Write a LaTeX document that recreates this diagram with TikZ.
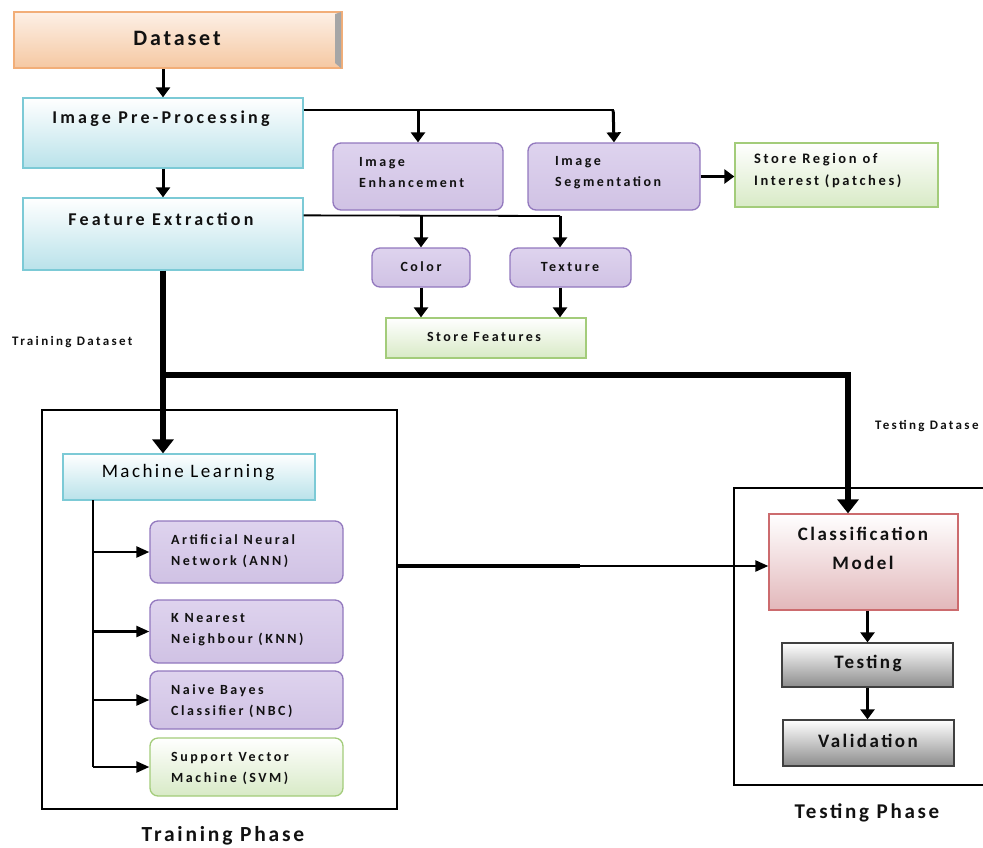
\documentclass[tikz,border=0pt]{standalone}
\usepackage{fontspec}
\setmainfont{Carlito}[LetterSpace=18]
\newfontfamily\tightf{Carlito}[LetterSpace=13]
\usetikzlibrary{arrows.meta,fit}
\definecolor{cyanline}{HTML}{7CCAD6}
\definecolor{cyanbot}{HTML}{B9E2EA}
\definecolor{purline}{HTML}{9278BE}
\definecolor{purtop}{HTML}{DED3EE}
\definecolor{purmid}{HTML}{F7F4FB}
\definecolor{purbot}{HTML}{D0C2E4}
\definecolor{grnline}{HTML}{A3CC7A}
\definecolor{grnbot}{HTML}{D8EAC6}
\definecolor{pinkline}{HTML}{CC6B6E}
\definecolor{pinkbot}{HTML}{E2B7BA}
\definecolor{orgline}{HTML}{F2AE78}
\definecolor{orgtop}{HTML}{FDF0E6}
\definecolor{orgbot}{HTML}{F5C8A2}
\definecolor{txtcol}{HTML}{111111}
\newcommand{\fsz}[1]{\fontsize{#1}{#1}\selectfont}
\begin{document}
\begin{tikzpicture}[x=1pt,y=-1pt,
  boxbase/.style={inner sep=0pt},
  cyanbox/.style={boxbase,draw=cyanline,line width=1.3pt,top color=white,bottom color=cyanbot},
  purbox/.style={boxbase,draw=purline,line width=1.3pt,rounded corners=8pt,top color=purtop,middle color=purmid,bottom color=purbot},
  grnbox/.style={boxbase,draw=grnline,line width=1.3pt,top color=white,bottom color=grnbot},
  grnrbox/.style={grnbox,rounded corners=8pt},
  pinkbox/.style={boxbase,draw=pinkline,line width=1.3pt,top color=white,bottom color=pinkbot},
  graybox/.style={boxbase,draw=black!75,line width=1.3pt,top color=white,bottom color=black!45},
  databox/.style={boxbase,draw=orgline,line width=2.5pt,top color=orgtop,bottom color=orgbot},
  phasebox/.style={boxbase,draw=black,line width=1.2pt},
  txt/.style={inner sep=0pt,text=txtcol,font=\bfseries},
  ltxt/.style={txt,anchor=west,align=left},
  conn/.style={line width=1.8pt},
  arr/.style={line width=3pt,-{Triangle[width=14pt,length=10pt]}},
  thinarr/.style={line width=2.4pt,-{Triangle[width=11pt,length=13pt]}},
  bigline/.style={line width=6pt},
  bigarr/.style={line width=6pt,-{Triangle[width=21pt,length=14pt]}}
]
\useasboundingbox (0,0) rectangle (983,847);
\clip (0,0) rectangle (983,847);

% top chain
\node[databox,fit={(14,12) (342,68)}] (data) {};
\fill[black!35] (335,14) -- (341,12) -- (341,68) -- (335,63) -- cycle;
\node[txt,font=\tightf\bfseries\fsz{22}] (datat) at (177,38) {Dataset};

\node[cyanbox,fit={(23,98) (303,168)}] (pre) {};
\node[txt,font=\bfseries\fsz{18}] (pret) at (161,119) {Image Pre-Processing};

\node[cyanbox,fit={(23,198) (303,270)}] (fe) {};
\node[txt,font=\bfseries\fsz{18}] (fet) at (161,219) {Feature Extraction};

% preprocessing branch
\node[purbox,fit={(333,143) (503,210)}] (enh) {};
\node[ltxt,font=\bfseries\fontsize{14}{21}\selectfont] (enht) at (359,173) {Image\\Enhancement};
\node[purbox,fit={(528,143) (700,210)}] (seg) {};
\node[ltxt,font=\bfseries\fontsize{14}{21}\selectfont] (segt) at (555,173) {Image\\Segmentation};
\node[grnbox,fit={(735,143) (938,207)}] (roi) {};
\node[ltxt,font=\bfseries\fontsize{14.5}{22}\selectfont] (roit) at (754,171) {Store Region of\\Interest (patches)};

% feature branch
\node[purbox,fit={(372,248) (470,287)}] (col) {};
\node[txt,font=\bfseries\fsz{14}] (colt) at (421,267) {Color};
\node[purbox,fit={(510,248) (631,287)}] (tex) {};
\node[txt,font=\bfseries\fsz{14}] (text) at (570,267) {Texture};
\node[grnbox,fit={(386,318) (586,358)}] (sf) {};
\node[txt,font=\bfseries\fsz{14}] (sft) at (484,337) {Store Features};

% connectors top
\draw[arr] (data.south -| pre.north) -- (pre.north);
\draw[arr] (pre.south) -- (fe.north);
\coordinate (pj) at ([yshift=-13pt]pre.north east);
\draw[conn] (pj) -- (pj -| seg.north);
\draw[arr] (pj -| enh.north) -- (enh.north);
\draw[arr] ([xshift=-0.8pt]pj -| seg.north) -- (seg.north);
\draw[arr] (seg.east) -- (seg.east -| roi.west);
\coordinate (fj) at ([yshift=-18pt]fe.north east);
\coordinate (fk) at (560,216);
\draw[conn] (fj) -- (fk);
\draw[arr] (fj -| col.north) -- (col.north);
\draw[arr] (fk) -- (fk |- tex.north);
\draw[arr] (col.south) -- (col.south |- sf.north);
\draw[arr] (fk |- tex.south) -- (fk |- sf.north);

% labels
\node[txt,anchor=west,font=\bfseries\fsz{13}] (trd) at (12,342) {Training Dataset};
\node[txt,anchor=west,font=\bfseries\fsz{13}] (ted) at (875,426) {Testing Datase};

% training phase
\node[phasebox,fit={(42,410) (397,809)}] (train) {};
\node[cyanbox,fit={(63,454) (315,500)}] (ml) {};
\node[txt,font=\tightf\mdseries\fsz{19},text=black] (mlt) at (188,473) {Machine Learning};
\node[purbox,fit={(150,521) (343,583)}] (ann) {};
\node[ltxt,font=\bfseries\fontsize{14}{21}\selectfont] (annt) at (171,551) {Artificial Neural\\Network (ANN)};
\node[purbox,fit={(150,600) (343,663)}] (knn) {};
\node[ltxt,font=\bfseries\fontsize{14}{21}\selectfont] (knnt) at (171,630) {K Nearest\\Neighbour (KNN)};
\node[purbox,fit={(150,671) (343,729)}] (nbc) {};
\node[ltxt,font=\bfseries\fontsize{14}{21}\selectfont] (nbct) at (171,701) {Naive Bayes\\Classifier (NBC)};
\node[grnrbox,fit={(150,738) (343,796)}] (svm) {};
\node[ltxt,font=\bfseries\fontsize{14}{21}\selectfont] (svmt) at (171,768) {Support Vector\\Machine (SVM)};
\node[txt,font=\tightf\bfseries\fsz{21.5}] (trp) at (223,836) {Training Phase};

\coordinate (mlb) at (93,500);
\coordinate (mle) at (93,767);
\draw[conn] (mlb) -- (mle);
\draw[thinarr] (mlb |- ann.west) -- (ann.west);
\draw[thinarr] (mlb |- knn.west) -- (knn.west);
\draw[thinarr] (mlb |- nbc.west) -- (nbc.west);
\draw[thinarr] (mle) -- (mle -| svm.west);

% testing phase
\node[phasebox,fit={(734,488) (1010,785)}] (testbox) {};
\node[pinkbox,fit={(769,514) (958,610)}] (cls) {};
\node[txt,font=\tightf\bfseries\fontsize{19}{29}\selectfont,align=center] (clst) at (863,548) {Classification\\Model};
\node[graybox,fit={(782,643) (953,687)}] (tst) {};
\node[txt,font=\tightf\bfseries\fsz{19}] (tstt) at (868,663) {Testing};
\node[graybox,fit={(783,720) (954,766)}] (val) {};
\node[txt,font=\tightf\bfseries\fsz{19}] (valt) at (868,741) {Validation};
\node[txt,font=\tightf\bfseries\fsz{21}] (tsp) at (867,813) {Testing Phase};

\draw[arr] (tst.north |- cls.south) -- (tst.north);
\draw[arr] (tst.south) -- (tst.south |- val.north);

% dataset split
\draw[bigarr] (fe.south) -- (fe.south |- ml.north);
\coordinate (tj) at (163,375);
\coordinate (tk) at (848,375);
\draw[bigline] ([xshift=-3pt]tj) -- ([xshift=3pt]tk);
\draw[bigarr] (tk) -- (tk |- cls.north);

% model to classification
\coordinate (m1) at (580,566);
\draw[line width=4pt] (train.east |- m1) -- (m1);
\draw[thinarr] (m1) -- (m1 -| cls.west);
\end{tikzpicture}
\end{document}
